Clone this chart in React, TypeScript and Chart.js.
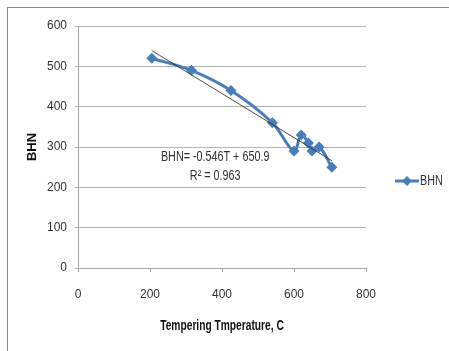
import React, { useEffect, useRef } from "react";
import { Chart, registerables } from "chart.js";

Chart.register(...registerables);

const temperatures = [205, 315, 425, 540, 600, 620, 640, 650, 670, 705];
const bhnValues = [520, 490, 440, 360, 290, 330, 310, 290, 300, 250];
const trendSlope = -0.546;
const trendIntercept = 650.9;
const trendX = [205, 705];
const equationText = "BHN= -0.546T + 650.9";
const r2Text = "R² = 0.963";
const seriesName = "BHN";
const xTitle = "Tempering Tmperature, C";
const yTitle = "BHN";

const FONT = "'Liberation Sans', Arial, sans-serif";
const BLUE = "#4A7EBB";

function condensedText(ctx: any, text: string, x: number, y: number, sx: number, align: string) {
  ctx.save();
  ctx.translate(x, y);
  ctx.scale(sx, 1);
  ctx.textAlign = align;
  ctx.fillText(text, 0, 0);
  ctx.restore();
}

export default function App() {
  const ref = useRef<HTMLCanvasElement | null>(null);
  useEffect(() => {
    if (!ref.current) return;
    const overlay = {
      id: "overlay",
      beforeDraw(chart: any) {
        const ctx = chart.ctx;
        ctx.save();
        ctx.fillStyle = "#ffffff";
        ctx.fillRect(0, 0, chart.width, chart.height);
        ctx.strokeStyle = "#8c8c8c";
        ctx.lineWidth = 1;
        ctx.strokeRect(7.5, 7.5, 600, 500);
        ctx.restore();
      },
      afterDraw(chart: any) {
        const ctx = chart.ctx;
        const xs = chart.scales.x;
        const ys = chart.scales.y;
        ctx.save();
        ctx.fillStyle = "#333333";
        ctx.font = `14px ${FONT}`;
        ctx.textBaseline = "middle";
        const cx = xs.getPixelForValue(381);
        condensedText(ctx, equationText, cx, ys.getPixelForValue(274), 0.77, "center");
        condensedText(ctx, r2Text, cx, ys.getPixelForValue(227), 0.77, "center");
        // x axis title
        ctx.fillStyle = "#111111";
        ctx.font = `bold 14px ${FONT}`;
        condensedText(ctx, xTitle, (xs.left + xs.right) / 2, 326, 0.73, "center");
        // legend
        const ly = 181;
        ctx.strokeStyle = BLUE;
        ctx.lineWidth = 3;
        ctx.beginPath();
        ctx.moveTo(395, ly);
        ctx.lineTo(419, ly);
        ctx.stroke();
        ctx.fillStyle = BLUE;
        ctx.beginPath();
        ctx.moveTo(407, ly - 5);
        ctx.lineTo(412, ly);
        ctx.lineTo(407, ly + 5);
        ctx.lineTo(402, ly);
        ctx.closePath();
        ctx.fill();
        ctx.fillStyle = "#333333";
        ctx.font = `14px ${FONT}`;
        condensedText(ctx, seriesName, 420, ly, 0.77, "left");
        ctx.restore();
      },
    };
    const chart = new Chart(ref.current, {
      type: "scatter",
      data: {
        datasets: [
          {
            label: "Trend",
            data: trendX.map((x) => ({ x, y: trendSlope * x + trendIntercept })),
            showLine: true,
            borderColor: "#222222",
            borderWidth: 0.8,
            pointRadius: 0,
            fill: false,
          },
          {
            label: seriesName,
            data: temperatures.map((x, i) => ({ x, y: bhnValues[i] })),
            showLine: true,
            borderColor: BLUE,
            backgroundColor: BLUE,
            borderWidth: 3,
            tension: 0.35,
            pointStyle: "rectRot",
            pointRadius: 5.5,
            pointBorderWidth: 0,
            fill: false,
          },
        ],
      },
      options: {
        animation: false,
        responsive: false,
        maintainAspectRatio: false,
        layout: { padding: { left: 0, top: 26, right: 83, bottom: 0 } },
        plugins: { legend: { display: false }, tooltip: { enabled: false } },
        scales: {
          x: {
            type: "linear",
            min: 0,
            max: 800,
            afterFit: (s: any) => { s.height = 83; },
            ticks: { stepSize: 200, color: "#333333", font: { family: FONT, size: 12 }, padding: 15 },
            grid: { drawOnChartArea: false, drawTicks: true, tickLength: 4, color: "#a6a6a6" },
            border: { color: "#a6a6a6" },
            title: { display: false },
          },
          y: {
            type: "linear",
            min: 0,
            max: 600,
            afterFit: (s: any) => { s.width = 78; },
            ticks: { stepSize: 100, color: "#333333", font: { family: FONT, size: 12 }, padding: 8 },
            grid: { color: "#b4b4b4", tickLength: 3, drawTicks: true },
            border: { color: "#a6a6a6" },
            title: { display: true, text: yTitle, color: "#111111", font: { family: FONT, size: 13, weight: "bold" }, padding: { top: 25, bottom: 0 } },
          },
        },
      },
      plugins: [overlay],
    } as any);
    return () => chart.destroy();
  }, []);
  return (
    <div style={{ position: "fixed", left: 0, top: 0, width: 449, height: 351 }}>
      <canvas ref={ref} width={449} height={351} style={{ width: 449, height: 351, display: "block" }} />
    </div>
  );
}
